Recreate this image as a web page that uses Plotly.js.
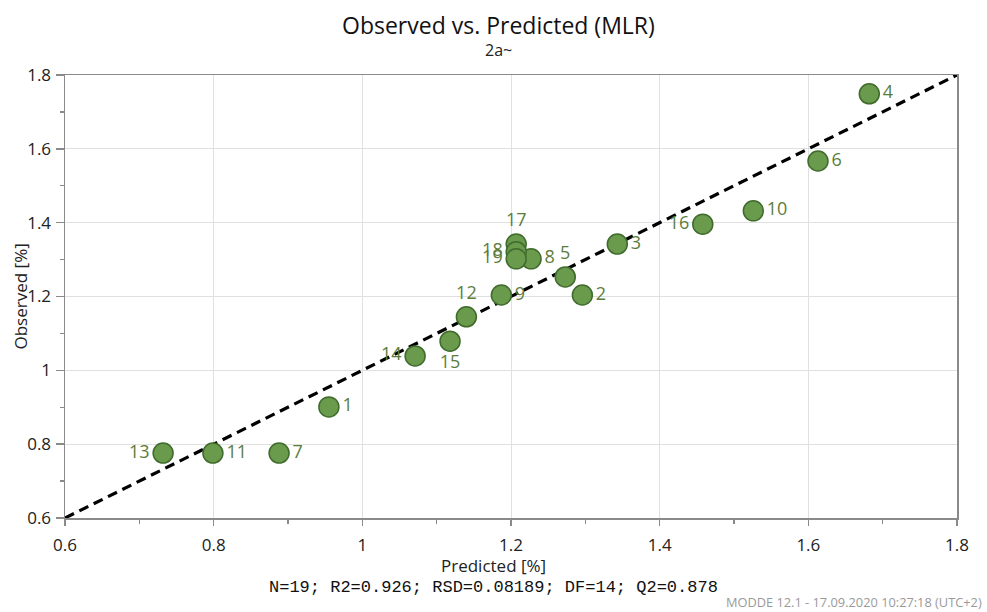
<!DOCTYPE html>
<html>
<head>
<meta charset="utf-8">
<script src="https://cdn.plot.ly/plotly-3.0.1.min.js"></script>
<style>
  html, body { margin: 0; padding: 0; background: #ffffff; }
  #chart { width: 987px; height: 612px; }
</style>
</head>
<body>
<div id="chart"></div>
<script>
// Observation numbers with predicted and observed response values (MLR model, response 2a~)
const runIds    = [1, 2, 3, 4, 5, 6, 7, 8, 9, 10, 11, 12, 13, 14, 15, 16, 17, 18, 19];
const predicted = [0.955, 1.296, 1.343, 1.682, 1.273, 1.613, 0.888, 1.227, 1.187, 1.526, 0.799, 1.140, 0.732, 1.071, 1.118, 1.458, 1.207, 1.207, 1.207];
const observed  = [0.901, 1.204, 1.342, 1.749, 1.253, 1.567, 0.776, 1.302, 1.204, 1.432, 0.776, 1.145, 0.776, 1.039, 1.079, 1.396, 1.342, 1.321, 1.302];

// Axis range and tick values
const axisRange = [0.6, 1.8];
const tickVals  = [0.6, 0.8, 1, 1.2, 1.4, 1.6, 1.8];

// Model summary line printed under the x axis
const statsText  = 'N=19; R2=0.926; RSD=0.08189; DF=14; Q2=0.878';
const footerText = 'MODDE 12.1 - 17.09.2020 10:27:18 (UTC+2)';

// Where each observation label sits relative to its marker
const labelSide = {13: 'middle left', 16: 'middle left', 18: 'middle left', 19: 'middle left',
                   14: 'middle left', 17: 'top center', 12: 'top center', 5: 'top center',
                   15: 'bottom center'};
const textPositions = runIds.map(id => labelSide[id] || 'middle right');

const pointColor = '#6a9a4c';
const edgeColor  = '#3f6b2c';
const labelColor = '#5b7d3c';
const uiFont = 'Open Sans, sans-serif';

const diagonal = {
  x: axisRange, y: axisRange,
  mode: 'lines', type: 'scatter',
  line: { color: '#000000', width: 3.2, dash: '10px,6px' },
  hoverinfo: 'skip', showlegend: false
};

const points = {
  x: predicted, y: observed,
  text: runIds.map(String),
  mode: 'markers+text', type: 'scatter',
  textposition: textPositions,
  textfont: { family: uiFont, size: 18, color: labelColor },
  marker: { size: 20, color: pointColor, line: { color: edgeColor, width: 1.5 } },
  cliponaxis: false, showlegend: false
};

const axisCommon = {
  range: axisRange,
  tickvals: tickVals,
  showgrid: true, gridcolor: '#e0e0e0', gridwidth: 1,
  zeroline: false,
  showline: true, linecolor: '#8a8a8a', linewidth: 1.5, mirror: true,
  ticks: 'outside', tickcolor: '#8a8a8a', tickwidth: 1.5,
  minor: { ticks: 'outside', dtick: 0.1, tick0: 0.6, ticklen: 4, tickcolor: '#8a8a8a', tickwidth: 1.2, showgrid: false },
  tickfont: { family: uiFont, size: 17, color: '#222222' },
  fixedrange: true
};

const layout = {
  width: 987, height: 612,
  margin: { l: 65, r: 30, t: 75, b: 94 },
  paper_bgcolor: '#ffffff', plot_bgcolor: '#ffffff',
  xaxis: Object.assign({}, axisCommon, { ticklen: 6, ticklabelstandoff: 5 }),
  yaxis: Object.assign({}, axisCommon, { ticklen: 8, ticklabelstandoff: 1 }),
  annotations: [
    { text: 'Observed vs. Predicted (MLR)', xref: 'paper', yref: 'paper', x: 0.4865, y: 1, yshift: 50,
      xanchor: 'center', yanchor: 'middle', showarrow: false,
      font: { family: uiFont, size: 23, color: '#111111' } },
    { text: '2a~', xref: 'paper', yref: 'paper', x: 0.4865, y: 1, yshift: 25,
      xanchor: 'center', yanchor: 'middle', showarrow: false,
      font: { family: uiFont, size: 16, color: '#222222' } },
    { text: 'Predicted [%]', xref: 'paper', yref: 'paper', x: 0.4805, y: 0, yshift: -47,
      xanchor: 'center', yanchor: 'middle', showarrow: false,
      font: { family: uiFont, size: 17, color: '#222222' } },
    { text: 'Observed [%]', xref: 'paper', yref: 'paper', x: 0, xshift: -45, y: 0.5,
      xanchor: 'center', yanchor: 'middle', textangle: -90, showarrow: false,
      font: { family: uiFont, size: 17, color: '#222222' } },
    { text: statsText, xref: 'paper', yref: 'paper', x: 0.4805, y: 0, yshift: -69,
      xanchor: 'center', yanchor: 'middle', showarrow: false,
      font: { family: 'Liberation Mono, monospace', size: 17, color: '#111111' } },
    { text: footerText, xref: 'paper', yref: 'paper', x: 1, y: 0, xshift: 27, yshift: -84,
      xanchor: 'right', yanchor: 'middle', showarrow: false,
      font: { family: uiFont, size: 12.8, color: '#9a9a9a' } }
  ]
};

Plotly.newPlot('chart', [diagonal, points], layout, { displayModeBar: false, staticPlot: true });
</script>
</body>
</html>
